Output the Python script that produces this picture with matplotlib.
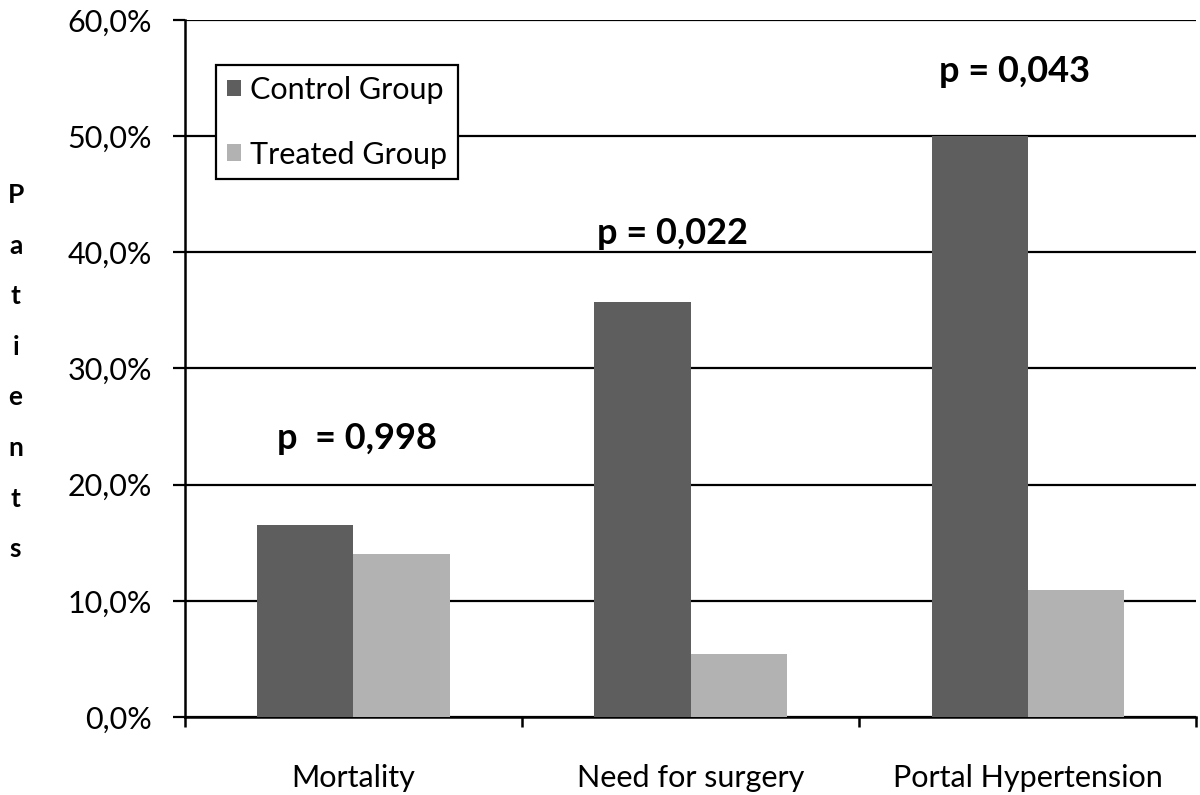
import numpy as np
import matplotlib.pyplot as plt
from matplotlib.ticker import FuncFormatter, FixedLocator

categories = ['Mortality', 'Need for surgery', 'Portal Hypertension']
control = [16.5, 35.7, 50.0]
treated = [14.0, 5.4, 10.9]
p_labels = ['p  = 0,998', 'p = 0,022', 'p = 0,043']
p_heights = [24.0, 41.6, 55.6]
p_shift = [0.01, -0.055, -0.04]

plt.rcParams['font.family'] = ['Lato', 'DejaVu Sans']

fig = plt.figure(figsize=(12, 7.95), dpi=100)
ax = fig.add_axes([0.154, 0.098, 0.843, 0.877])

x = np.arange(len(categories))
w = 0.285
ax.bar(x - w / 2, control, w, color='#5e5e5e', label='Control Group', zorder=3)
ax.bar(x + w / 2, treated, w, color='#b2b2b2', label='Treated Group', zorder=3)

for xi, lab, h, dx in zip(x, p_labels, p_heights, p_shift):
    ax.text(xi + dx, h, lab, ha='center', va='center', fontsize=26,
            fontweight='bold', color='black')

ax.set_xlim(-0.5, 2.5)
ax.set_ylim(0, 60)
ax.set_yticks(np.arange(0, 61, 10))
ax.yaxis.set_major_formatter(FuncFormatter(lambda v, p: f'{v:.1f}%'.replace('.', ',')))
ax.grid(axis='y', color='black', linewidth=1.6, zorder=1)

# category labels centred, ticks at the boundaries
ax.set_xticks(x)
ax.set_xticklabels(categories)
ax.tick_params(axis='x', which='major', length=0, pad=34, labelsize=22)
ax.xaxis.set_minor_locator(FixedLocator([-0.5, 0.5, 1.5, 2.5]))
ax.tick_params(axis='x', which='minor', length=7, width=1.8, direction='out')
ax.tick_params(axis='y', length=8.6, width=1.6, direction='out', pad=15, labelsize=22)

for s in ['top', 'right']:
    ax.spines[s].set_visible(False)
for s in ['left', 'bottom']:
    ax.spines[s].set_linewidth(1.8)

leg = ax.legend(loc='upper left', bbox_to_anchor=(0.031, 0.935), fontsize=22,
                frameon=True, fancybox=False, edgecolor='black', framealpha=1,
                handlelength=0.45, handleheight=0.45, handletextpad=0.3,
                labelspacing=1.2, borderpad=0.35, borderaxespad=0)
leg.get_frame().set_linewidth(1.6)
leg.set_zorder(5)

fig.text(0.013, 0.532, '\n'.join('Patients'), ha='center', va='center',
         fontsize=19, fontweight='bold', linespacing=2.33)

fig.savefig('out.png', dpi=100)
